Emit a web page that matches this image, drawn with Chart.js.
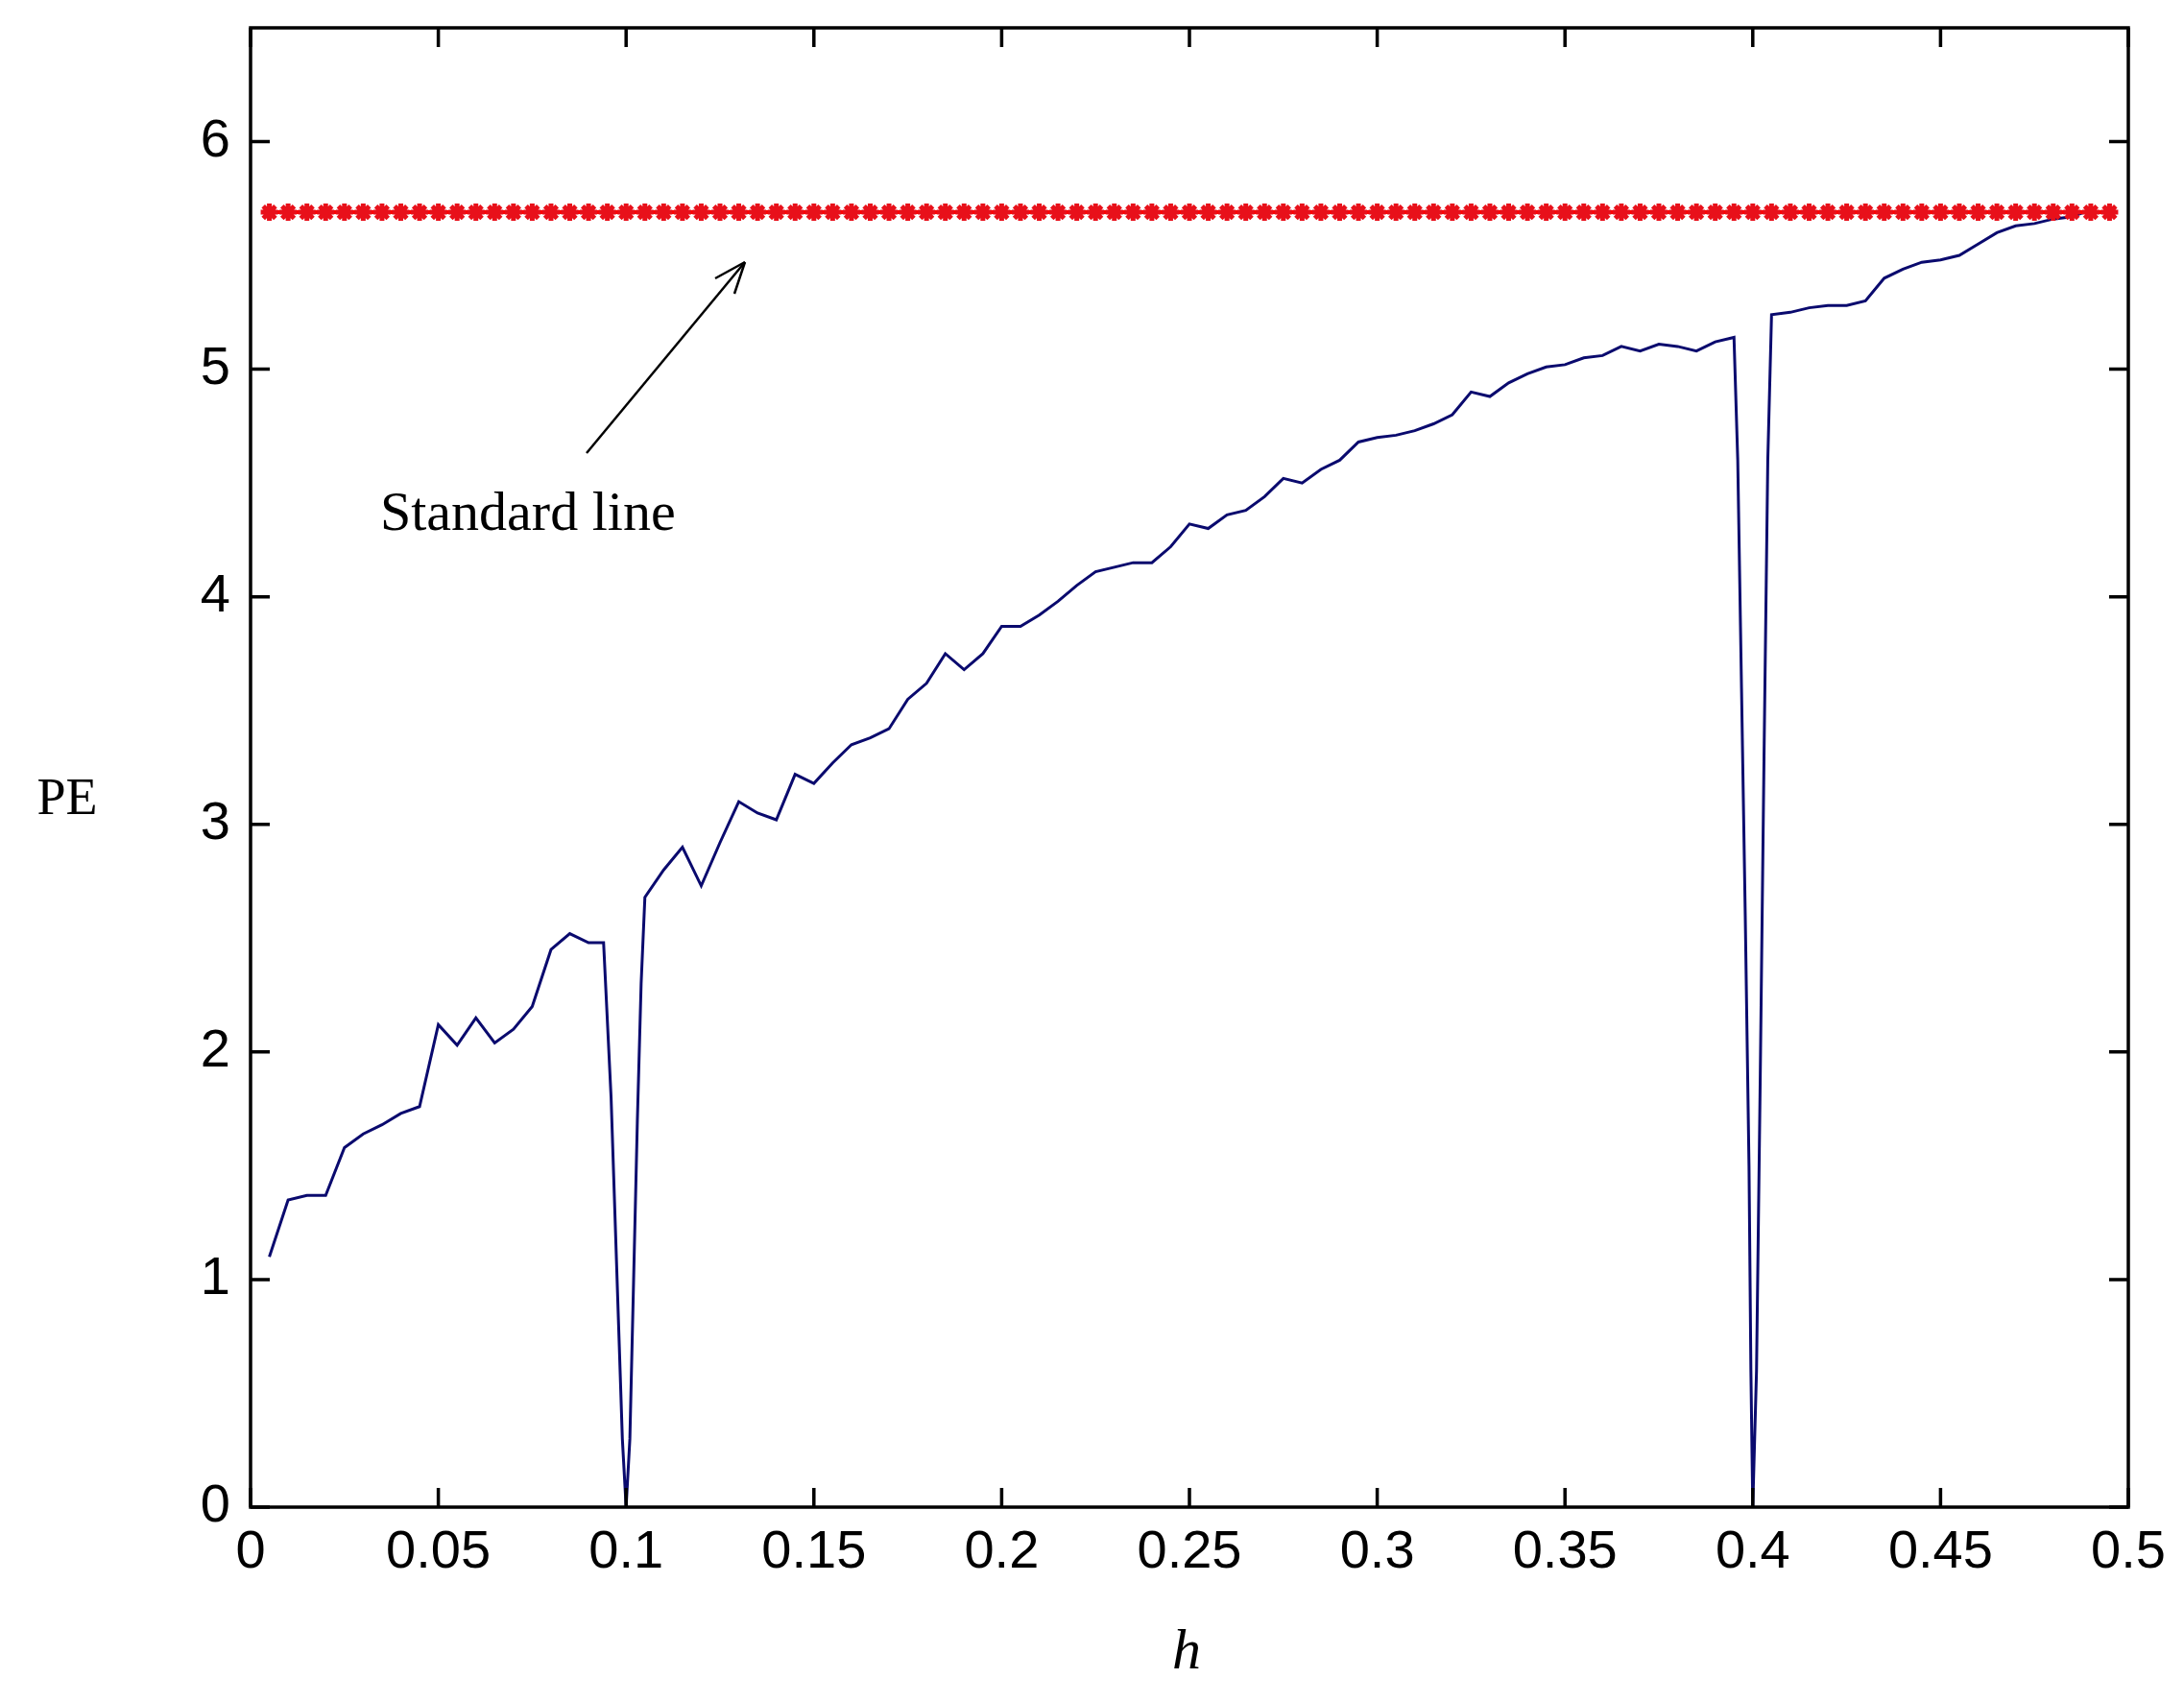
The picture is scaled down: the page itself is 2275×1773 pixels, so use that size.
<!DOCTYPE html>
<html><head><meta charset="utf-8">
<script src="https://cdn.jsdelivr.net/npm/chart.js@4"></script>
<style>body{margin:0;background:#fff}</style></head>
<body><canvas id="c" width="2275" height="1773"></canvas>
<script>
const peX=[0.005,0.01,0.015,0.02,0.025,0.03,0.035,0.04,0.045,0.05,0.055,0.06,0.065,0.07,0.075,0.08,0.085,0.09,0.094,0.096,0.098,0.099,0.1,0.101,0.102,0.103,0.104,0.105,0.11,0.115,0.12,0.125,0.13,0.135,0.14,0.145,0.15,0.155,0.16,0.165,0.17,0.175,0.18,0.185,0.19,0.195,0.2,0.205,0.21,0.215,0.22,0.225,0.23,0.235,0.24,0.245,0.25,0.255,0.26,0.265,0.27,0.275,0.28,0.285,0.29,0.295,0.3,0.305,0.31,0.315,0.32,0.325,0.33,0.335,0.34,0.345,0.35,0.355,0.36,0.365,0.37,0.375,0.38,0.385,0.39,0.395,0.396,0.397,0.398,0.399,0.3995,0.4,0.401,0.402,0.403,0.404,0.405,0.41,0.415,0.42,0.425,0.43,0.435,0.44,0.445,0.45,0.455,0.46,0.465,0.47,0.475,0.48,0.485,0.49];
const peY=[1.1,1.35,1.37,1.37,1.58,1.64,1.68,1.73,1.76,2.12,2.03,2.15,2.04,2.1,2.2,2.45,2.52,2.48,2.48,1.8,0.8,0.3,0,0.3,1.0,1.7,2.3,2.68,2.8,2.9,2.73,2.92,3.1,3.05,3.02,3.22,3.18,3.27,3.35,3.38,3.42,3.55,3.62,3.75,3.68,3.75,3.87,3.87,3.92,3.98,4.05,4.11,4.13,4.15,4.15,4.22,4.32,4.3,4.36,4.38,4.44,4.52,4.5,4.56,4.6,4.68,4.7,4.71,4.73,4.76,4.8,4.9,4.88,4.94,4.98,5.01,5.02,5.05,5.06,5.1,5.08,5.11,5.1,5.08,5.12,5.14,4.6,3.6,2.6,1.5,0.6,0,0.6,1.9,3.3,4.6,5.24,5.25,5.27,5.28,5.28,5.3,5.4,5.44,5.47,5.48,5.5,5.55,5.6,5.63,5.64,5.66,5.67,5.7];
const stdX=[0.005,0.01,0.015,0.02,0.025,0.03,0.035,0.04,0.045,0.05,0.055,0.06,0.065,0.07,0.075,0.08,0.085,0.09,0.095,0.1,0.105,0.11,0.115,0.12,0.125,0.13,0.135,0.14,0.145,0.15,0.155,0.16,0.165,0.17,0.175,0.18,0.185,0.19,0.195,0.2,0.205,0.21,0.215,0.22,0.225,0.23,0.235,0.24,0.245,0.25,0.255,0.26,0.265,0.27,0.275,0.28,0.285,0.29,0.295,0.3,0.305,0.31,0.315,0.32,0.325,0.33,0.335,0.34,0.345,0.35,0.355,0.36,0.365,0.37,0.375,0.38,0.385,0.39,0.395,0.4,0.405,0.41,0.415,0.42,0.425,0.43,0.435,0.44,0.445,0.45,0.455,0.46,0.465,0.47,0.475,0.48,0.485,0.49,0.495];
const stdValue=5.69;
const xTicks=[0,0.05,0.1,0.15,0.2,0.25,0.3,0.35,0.4,0.45,0.5];
const yTicks=[0,1,2,3,4,5,6];

const deco={id:'deco',afterDraw(ch){
  const c=ch.ctx,a=ch.chartArea,xs=ch.scales.x,ys=ch.scales.y;
  c.save();c.strokeStyle='#000';c.lineWidth=3.5;
  c.strokeRect(a.left,a.top,a.right-a.left,a.bottom-a.top);
  c.beginPath();
  xTicks.forEach(v=>{const p=xs.getPixelForValue(v);c.moveTo(p,a.bottom);c.lineTo(p,a.bottom-20);c.moveTo(p,a.top);c.lineTo(p,a.top+20);});
  yTicks.forEach(v=>{const p=ys.getPixelForValue(v);c.moveTo(a.left,p);c.lineTo(a.left+20,p);c.moveTo(a.right,p);c.lineTo(a.right-20,p);});
  c.stroke();
  c.fillStyle='#000';c.font='56px "Liberation Sans Narrow", "Liberation Sans"';
  c.textAlign='center';c.textBaseline='top';
  xTicks.forEach(v=>c.fillText(String(v),xs.getPixelForValue(v),1590));
  c.textAlign='right';c.textBaseline='middle';
  yTicks.forEach(v=>c.fillText(String(v),240,ys.getPixelForValue(v)));
  c.font='54px "Liberation Serif"';c.textAlign='center';
  c.fillText('PE',70,834);
  c.font='italic 60px "Liberation Serif"';c.fillText('h',1236,1722);
  c.font='58px "Liberation Serif"';c.textAlign='left';c.fillText('Standard line',396,537);
  c.lineWidth=2.5;c.beginPath();c.moveTo(611,472);c.lineTo(776,273);c.stroke();
  c.beginPath();c.moveTo(776,273);c.lineTo(745,290);c.moveTo(776,273);c.lineTo(765,306);c.stroke();
  c.restore();
}};
new Chart(document.getElementById('c'),{
  type:'line',
  data:{datasets:[
    {data:stdX.map(x=>({x,y:stdValue})),borderColor:'#ff0000',backgroundColor:'#ff0000',borderWidth:4,pointStyle:'star',pointRadius:9,pointBorderWidth:5,pointBorderColor:'#e8101a'},
    {data:peX.map((x,i)=>({x,y:peY[i]})),borderColor:'#0a0a6e',borderWidth:3,pointRadius:0,tension:0}
  ]},
  options:{responsive:false,animation:false,
    layout:{padding:{top:29,right:58,left:0,bottom:0}},
    plugins:{legend:{display:false},tooltip:{enabled:false}},
    scales:{
      x:{type:'linear',min:0,max:0.5,grid:{display:false},border:{display:false},ticks:{display:false},afterFit(s){s.height=203;}},
      y:{min:0,max:6.5,grid:{display:false},border:{display:false},ticks:{display:false},afterFit(s){s.width=261;}}
    }},
  plugins:[deco]
});
</script></body></html>
